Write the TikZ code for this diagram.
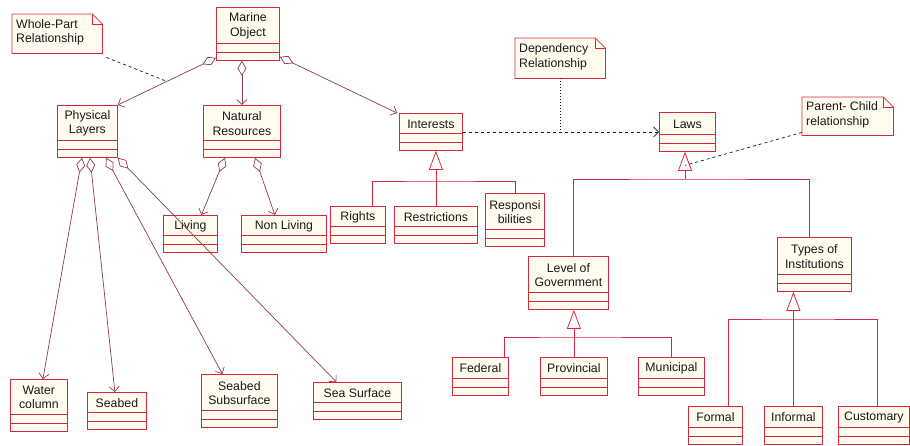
\documentclass[tikz,border=0pt]{standalone}
\usepackage{fontspec}
\setmainfont{Liberation Sans}
\usetikzlibrary{arrows.meta, positioning, calc}
\definecolor{umlred}{RGB}{212,42,64}
\definecolor{umlcream}{RGB}{255,251,238}
\definecolor{umlline}{RGB}{140,58,82}
\definecolor{umltext}{RGB}{25,25,25}

\tikzset{
  classbox/.style={draw=umlred, fill=umlcream, line width=0.8pt, inner sep=0pt},
  compline/.style={draw=umlred, line width=0.8pt},
  classname/.style={font=\fontsize{12.3}{14.5}\selectfont, text=umltext, align=center, inner sep=0pt},
  notebox/.style={draw=umlred, fill=umlcream, line width=0.8pt},
  notetext/.style={font=\fontsize{12.3}{14.5}\selectfont, text=umltext, align=left, inner sep=0pt, anchor=west},
  aggr/.style={draw=umlline, line width=0.7pt, {Diamond[open,length=15pt,width=9pt]}-{Straight Barb[length=5pt,width=10pt]}},
  gen/.style={draw=umlred, line width=0.8pt},
  genarrow/.style={gen, -{Triangle[open,length=19pt,width=14pt]}},
  depend/.style={draw=umltext, line width=0.7pt, dash pattern=on 3pt off 3pt, -{Straight Barb[length=5pt,width=10pt]}},
  noteline/.style={draw=umltext, line width=0.7pt, dash pattern=on 3pt off 3pt},
}

% class box: name, left, top, width, height, text
\newcommand{\umlclass}[6]{%
  \node[classbox, anchor=north west, minimum width=#4pt, minimum height=#5pt] (#1) at (#2,#3) {};
  \draw[compline] ([yshift=8.5pt]#1.south west) -- ([yshift=8.5pt]#1.south east);
  \draw[compline] ([yshift=17pt]#1.south west) -- ([yshift=17pt]#1.south east);
  \node[classname] (#1-name) at ($([yshift=16pt]#1.south)!0.5!(#1.north)$) {#6};
}

% note with folded corner: name, left, top, width, height, text
\newcommand{\umlnote}[6]{%
  \node[minimum width=#4pt, minimum height=#5pt, anchor=north west, inner sep=0pt] (#1) at (#2,#3) {};
  \draw[notebox] (#1.north west) -- ([xshift=-10pt]#1.north east) -- ([yshift=-10pt]#1.north east) -- (#1.south east) -- (#1.south west) -- cycle;
  \draw[notebox, fill=none] ([xshift=-10pt]#1.north east) |- ([yshift=-10pt]#1.north east);
  \node[notetext] (#1-text) at ([shift={(4pt,1.5pt)}]#1.west) {#6};
}

\begin{document}
\begin{tikzpicture}[x=1pt, y=-1pt]
    \useasboundingbox (0,0) rectangle (910,445);

    % Notes
    \umlnote{WholeNote}{12}{14}{90}{39}{Whole-Part\\Relationship}
    \umlnote{DepNote}{515}{38}{90}{40}{Dependency\\Relationship}
    \umlnote{PCNote}{802}{97}{91}{38}{Parent- Child\\relationship}

    % Marine object and its parts
    \umlclass{Marine}{216}{7}{63}{53}{Marine\\Object}
    \umlclass{Physical}{57}{105}{60}{52}{Physical\\Layers}
    \umlclass{Natural}{203}{105}{77}{52}{Natural\\Resources}
    \umlclass{Interests}{399}{113}{63}{37}{Interests}
    \umlclass{Laws}{659}{112}{56}{39}{Laws}

    % Physical layers
    \umlclass{Water}{10}{379}{57}{52}{Water\\column}
    \umlclass{Seabed}{87}{392}{59}{37}{Seabed}
    \umlclass{SeabedSub}{201}{374}{76}{53}{Seabed\\Subsurface}
    \umlclass{SeaSurface}{313}{382}{88}{37}{Sea Surface}

    % Natural resources
    \umlclass{Living}{163}{215}{54}{37}{Living}
    \umlclass{NonLiving}{241}{215}{85}{37}{Non Living}

    % Interests
    \umlclass{Rights}{330}{206}{55}{37}{Rights}
    \umlclass{Restrictions}{394}{206}{83}{37}{Restrictions}
    \umlclass{Resp}{485}{193}{59}{53}{Responsi\\bilities}

    % Laws
    \umlclass{LevelGov}{528}{256}{80}{53}{Level of\\Government}
    \umlclass{Types}{777}{237}{74}{54}{Types of\\Institutions}
    \umlclass{Federal}{452}{357}{56}{38}{Federal}
    \umlclass{Provincial}{540}{357}{67}{38}{Provincial}
    \umlclass{Municipal}{638}{357}{66}{38}{Municipal}
    \umlclass{Formal}{688}{406}{54}{38}{Formal}
    \umlclass{Informal}{764}{406}{58}{38}{Informal}
    \umlclass{Customary}{838}{406}{71}{38}{Customary}

    % Aggregations
    \draw[aggr] ([yshift=3pt]Marine.south west) -- (Physical.north east);
    \draw[aggr] (Marine.south -| Natural.north) -- (Natural.north);
    \draw[aggr] ([yshift=4pt]Marine.south east) -- ([xshift=-2pt]Interests.north west);
    \draw[aggr] ([xshift=25pt]Physical.south west) -- ([xshift=4pt]Water.north);
    \draw[aggr] ([xshift=33pt]Physical.south west) -- ([xshift=-2pt]Seabed.north);
    \draw[aggr] ([xshift=49pt]Physical.south west) -- ([xshift=-17pt]SeabedSub.north);
    \draw[aggr] (Physical.south east) -- ([xshift=-21pt]SeaSurface.north);
    \draw[aggr] ([xshift=22pt]Natural.south west) -- ([xshift=11pt]Living.north);
    \draw[aggr] ([xshift=52pt]Natural.south west) -- ([xshift=-9pt]NonLiving.north);

    % Generalizations
    \coordinate (intbar) at (436,181);
    \draw[gen] ([xshift=14.5pt]Rights.north) |- (intbar) -| (Resp.north);
    \draw[genarrow] (Restrictions.north) -- (Restrictions.north |- Interests.south);

    \coordinate (lawsbar) at (685,179);
    \draw[gen] ([xshift=5pt]LevelGov.north) |- (lawsbar) -| ([xshift=-5pt]Types.north);
    \draw[genarrow] (lawsbar) -- (lawsbar |- Laws.south);

    \coordinate (levelbar) at (573.5,337);
    \draw[gen] ([xshift=24pt]Federal.north) |- (levelbar) -| (Municipal.north);
    \draw[genarrow] (Provincial.north) -- (Provincial.north |- LevelGov.south);

    \coordinate (typesbar) at (793,319);
    \draw[gen] ([xshift=13pt]Formal.north) |- (typesbar) -| ([xshift=3pt]Customary.north);
    \draw[genarrow] (Informal.north) -- (Informal.north |- Types.south);

    % Dependency
    \draw[depend] (Interests.east) -- (Laws.west);

    % Note links
    \coordinate (wpmid) at ($([yshift=3pt]Marine.south west)!0.5!(Physical.north east)$);
    \draw[noteline] ([shift={(4pt,-4pt)}]WholeNote.south east) -- (wpmid);
    \draw[noteline, dash pattern=on 1pt off 2pt] (DepNote.south) -- (DepNote.south |- Interests.east);
    \draw[noteline] ([yshift=3pt]PCNote.south west) -- ($(lawsbar)!0.5!(lawsbar |- Laws.south)$);
\end{tikzpicture}
\end{document}
